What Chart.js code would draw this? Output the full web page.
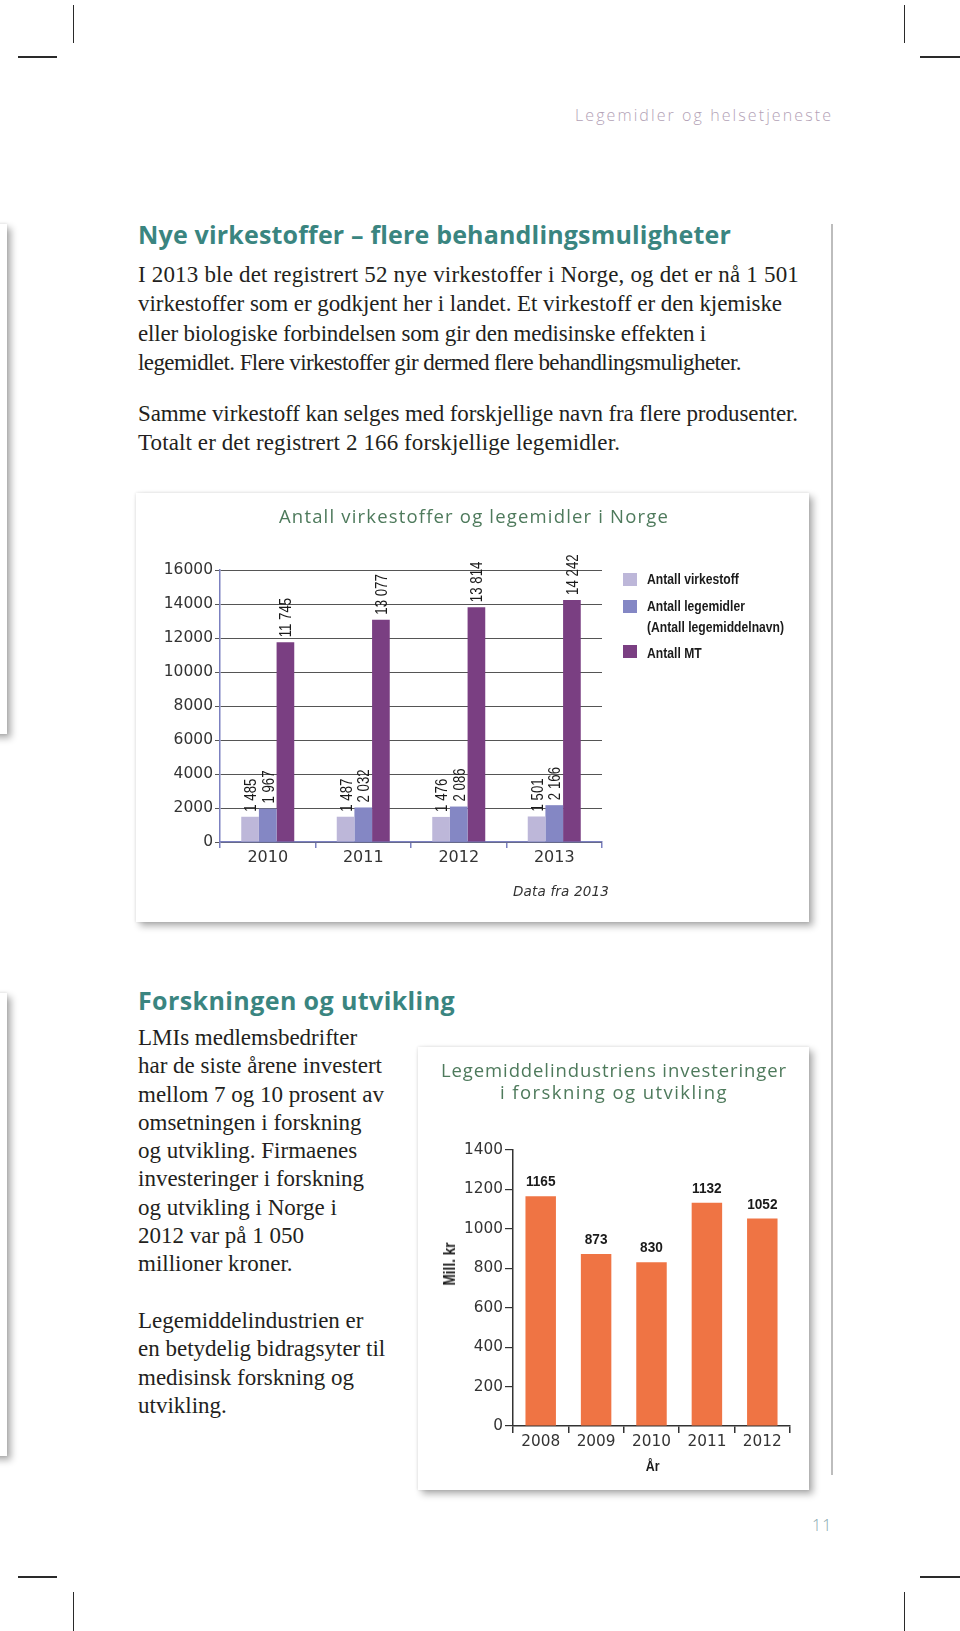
<!DOCTYPE html>
<html><head><meta charset="utf-8">
<script src="https://cdn.jsdelivr.net/npm/chart.js@4.4.1/dist/chart.umd.min.js"></script>
<style>
html,body{margin:0;padding:0;background:#fff;}
body{width:960px;height:1631px;position:relative;overflow:hidden;color:#231f20;}
.mk{position:absolute;background:#2a2a2a;}
.para{position:absolute;left:138px;font-family:"Liberation Serif","Times New Roman",serif;font-size:23px;white-space:nowrap;color:#231f20;}
.para span{display:inline-block;}
.h{position:absolute;left:138px;font-family:"Open Sans",sans-serif;font-weight:700;font-size:25px;line-height:30px;color:#3a8580;white-space:nowrap;}
.box{position:absolute;background:#fff;box-shadow:4px 4px 7px rgba(0,0,0,.32),0 0 3px rgba(0,0,0,.12);}
.ctitle{position:absolute;font-family:"Open Sans",sans-serif;font-size:18.5px;line-height:22px;color:#4e7a5c;white-space:nowrap;text-align:center;}
.ctitle span{display:inline-block;}
.cond{font-family:"Liberation Sans",Arial,sans-serif;font-weight:bold;white-space:nowrap;color:#1a1a1a;}
canvas{position:absolute;}
.leg{position:absolute;left:623px;}
.leg i{position:absolute;width:14px;height:13px;}
.leg span{position:absolute;left:24px;display:inline-block;transform:scaleX(0.81);transform-origin:0 50%;font-size:15px;line-height:18px;}
</style></head>
<body>
<!-- crop marks -->
<div class="mk" style="left:73px;top:5px;width:1px;height:38px"></div>
<div class="mk" style="left:18px;top:56px;width:39px;height:1.5px"></div>
<div class="mk" style="left:904px;top:5px;width:1px;height:38px"></div>
<div class="mk" style="left:920px;top:56px;width:40px;height:1.5px"></div>
<div class="mk" style="left:18px;top:1576px;width:39px;height:1.5px"></div>
<div class="mk" style="left:73px;top:1592px;width:1px;height:39px"></div>
<div class="mk" style="left:920px;top:1576px;width:40px;height:1.5px"></div>
<div class="mk" style="left:904px;top:1592px;width:1px;height:39px"></div>

<!-- header -->
<div id="hdr" style="position:absolute;left:575px;top:105px;font-family:'Open Sans',sans-serif;font-weight:300;font-size:16px;line-height:20px;color:#b3a2b6;white-space:nowrap;"><span id="hdrt" style="display:inline-block">Legemidler og helsetjeneste</span></div>

<!-- column rule -->
<div style="position:absolute;left:831px;top:224px;width:1.5px;height:1251px;background:#bdbdbd"></div>

<!-- left partial boxes -->
<div class="box" style="left:-30px;top:224px;width:37px;height:510px"></div>
<div class="box" style="left:-30px;top:993px;width:37px;height:463px"></div>

<!-- section 1 -->
<div class="h" style="top:219px"><span id="h1" style="display:inline-block">Nye virkestoffer – flere behandlingsmuligheter</span></div>
<div class="para" style="top:260px;line-height:29.4px">
<div><span data-w="661">I 2013 ble det registrert 52 nye virkestoffer i Norge, og det er nå 1 501</span></div>
<div><span data-w="644">virkestoffer som er godkjent her i landet. Et virkestoff er den kjemiske</span></div>
<div><span data-w="568">eller biologiske forbindelsen som gir den medisinske effekten i</span></div>
<div><span data-w="603">legemidlet. Flere virkestoffer gir dermed flere behandlingsmuligheter.</span></div>
</div>
<div class="para" style="top:399px;line-height:29.4px">
<div><span data-w="660">Samme virkestoff kan selges med forskjellige navn fra flere produsenter.</span></div>
<div><span data-w="482">Totalt er det registrert 2 166 forskjellige legemidler.</span></div>
</div>

<!-- chart 1 box -->
<div class="box" style="left:136px;top:493px;width:673px;height:429px"></div>
<canvas id="c1" width="673" height="429" style="left:136px;top:493px;width:673px;height:429px"></canvas>
<div class="ctitle" style="left:136px;top:505px;width:676px"><span id="t1">Antall virkestoffer og legemidler i Norge</span></div>
<div id="legend1"></div>
<div style="position:absolute;left:513px;top:883px;font-family:'DejaVu Sans',sans-serif;font-style:italic;font-size:13.5px;line-height:17px;color:#333;white-space:nowrap"><span id="df" style="display:inline-block">Data fra 2013</span></div>

<!-- section 2 -->
<div class="h" style="top:985px"><span id="h2" style="display:inline-block">Forskningen og utvikling</span></div>
<div class="para" style="top:1024px;line-height:28.25px">
<div>LMIs medlemsbedrifter</div>
<div>har de siste årene investert</div>
<div>mellom 7 og 10 prosent av</div>
<div>omsetningen i forskning</div>
<div>og utvikling. Firmaenes</div>
<div>investeringer i forskning</div>
<div>og utvikling i Norge i</div>
<div>2012 var på 1 050</div>
<div>millioner kroner.</div>
</div>
<div class="para" style="top:1307px;line-height:28.25px">
<div>Legemiddelindustrien er</div>
<div>en betydelig bidragsyter til</div>
<div>medisinsk forskning og</div>
<div>utvikling.</div>
</div>

<!-- chart 2 box -->
<div class="box" style="left:418px;top:1047px;width:391px;height:443px"></div>
<canvas id="c2" width="391" height="443" style="left:418px;top:1047px;width:391px;height:443px"></canvas>
<div class="ctitle" style="left:418px;top:1059px;width:392px"><span id="t2a">Legemiddelindustriens investeringer</span><br><span id="t2b">i forskning og utvikling</span></div>
<div class="cond" style="position:absolute;left:603px;top:1457px;width:100px;text-align:center;font-size:15.5px;line-height:18px"><span style="display:inline-block;transform:scaleX(0.8)">År</span></div>
<div class="cond" style="position:absolute;left:450px;top:1264px;font-size:17px;line-height:18px;transform:translate(-50%,-50%) rotate(-90deg) scaleX(0.8)">Mill. kr</div>

<!-- page number -->
<div style="position:absolute;left:812px;top:1515px;font-family:'Open Sans',sans-serif;font-weight:300;font-size:16px;line-height:20px;color:#86a6ae;letter-spacing:1px">11</div>

<script>
// ---------- data ----------
const years1 = ['2010', '2011', '2012', '2013'];
const seriesNames1 = ['Antall virkestoff', 'Antall legemidler', 'Antall MT'];
const legendLines1 = [['Antall virkestoff'], ['Antall legemidler', '(Antall legemiddelnavn)'], ['Antall MT']];
const virkestoff = [1485, 1487, 1476, 1501];
const legemidler = [1967, 2032, 2086, 2166];
const antallMT = [11745, 13077, 13814, 14242];
const colors1 = ['#bdb7d9', '#8487c4', '#7a3f82'];
const yTicks1 = [0, 2000, 4000, 6000, 8000, 10000, 12000, 14000, 16000];

const years2 = ['2008', '2009', '2010', '2011', '2012'];
const investering = [1165, 873, 830, 1132, 1052];
const color2 = '#ef7444';
const yTicks2 = [0, 200, 400, 600, 800, 1000, 1200, 1400];

// ---------- text fitting ----------
function fitEl(el, target){
  el.style.letterSpacing = '0px';
  const w = el.getBoundingClientRect().width;
  const n = el.textContent.length;
  el.style.letterSpacing = ((target - w) / n) + 'px';
}
function fit(id, target){ fitEl(document.getElementById(id), target); }
fit('hdrt', 258); fit('h1', 593); fit('h2', 317);
fit('t1', 390); fit('t2a', 346); fit('t2b', 228); fit('df', 96);
document.querySelectorAll('.para span[data-w]').forEach(s => fitEl(s, +s.dataset.w));

// ---------- legend (HTML) ----------
const legTops = [[573, 570], [600, 597], [645, 644]];
const lg = document.getElementById('legend1');
legendLines1.forEach((lines, i) => {
  const d = document.createElement('div');
  d.className = 'leg cond';
  d.style.top = legTops[i][0] + 'px';
  const sq = document.createElement('i');
  sq.style.background = colors1[i]; sq.style.left = '0px'; sq.style.top = '0px';
  d.appendChild(sq);
  lines.forEach((t, k) => {
    const s = document.createElement('span');
    s.textContent = t;
    s.style.top = (legTops[i][1] - legTops[i][0] + k * 21) + 'px';
    d.appendChild(s);
  });
  lg.appendChild(d);
});

// ---------- value label plugin ----------
const valueLabels = {
  id: 'valueLabels',
  afterDatasetsDraw(chart, args, o) {
    const ctx = chart.ctx;
    chart.data.datasets.forEach((ds, i) => {
      const meta = chart.getDatasetMeta(i);
      meta.data.forEach((bar, j) => {
        const txt = o.format(ds.data[j]);
        ctx.save();
        ctx.font = o.font;
        ctx.fillStyle = o.color;
        ctx.translate(bar.x, bar.y - o.offset);
        if (o.rotate) {
          ctx.rotate(-Math.PI / 2);
          ctx.scale(o.squeeze, 1);
          ctx.textAlign = 'left';
          ctx.textBaseline = 'alphabetic';
          ctx.fillText(txt, 0, o.capHalf);
        } else {
          ctx.scale(o.squeeze, 1);
          ctx.textAlign = 'center';
          ctx.textBaseline = 'alphabetic';
          ctx.fillText(txt, 0, 0);
        }
        ctx.restore();
      });
    });
  }
};
const spaced = v => String(v).replace(/\B(?=(\d{3})+(?!\d))/g, ' ');

// ---------- chart 1 ----------
new Chart(document.getElementById('c1'), {
  type: 'bar',
  data: {
    labels: years1,
    datasets: [
      { label: seriesNames1[0], data: virkestoff, backgroundColor: colors1[0] },
      { label: seriesNames1[1], data: legemidler, backgroundColor: colors1[1] },
      { label: seriesNames1[2], data: antallMT, backgroundColor: colors1[2] }
    ]
  },
  options: {
    responsive: false, animation: false, devicePixelRatio: 1,
    layout: { padding: { top: 77, right: 207, left: 0, bottom: 0 } },
    datasets: { bar: { categoryPercentage: 0.555, barPercentage: 1 } },
    plugins: {
      legend: { display: false }, tooltip: { enabled: false },
      valueLabels: { format: spaced, font: '17px "Liberation Sans", Arial, sans-serif', color: '#1a1a1a',
                     offset: 5, rotate: true, squeeze: 0.78, capHalf: 6 }
    },
    scales: {
      x: {
        grid: { display: true, drawOnChartArea: false, drawTicks: true, tickLength: 6, color: '#7b80c0', lineWidth: 1.5, offset: true },
        border: { color: '#7b80c0', width: 1.5 },
        ticks: { font: { family: 'DejaVu Sans', size: 16 }, color: '#333', padding: 0, maxRotation: 0 },
        afterFit: s => { s.height = 80; }
      },
      y: {
        min: 0, max: 16000,
        afterBuildTicks: s => { s.ticks = yTicks1.map(v => ({ value: v })); },
        ticks: { font: { family: 'DejaVu Sans', size: 15.5 }, color: '#333', padding: 2, callback: v => String(v) },
        grid: { color: '#555', lineWidth: 1, tickLength: 5, drawTicks: true },
        border: { color: '#7b80c0', width: 1.5 },
        afterFit: s => { s.width = 84; }
      }
    }
  },
  plugins: [valueLabels]
});

// ---------- chart 2 ----------
new Chart(document.getElementById('c2'), {
  type: 'bar',
  data: {
    labels: years2,
    datasets: [{ label: 'Mill. kr', data: investering, backgroundColor: color2 }]
  },
  options: {
    responsive: false, animation: false, devicePixelRatio: 1,
    layout: { padding: { top: 103, right: 19, left: 0, bottom: 0 } },
    datasets: { bar: { categoryPercentage: 0.55, barPercentage: 1 } },
    plugins: {
      legend: { display: false }, tooltip: { enabled: false },
      valueLabels: { format: v => String(v), font: 'bold 15.5px "Liberation Sans", Arial, sans-serif', color: '#1a1a1a',
                     offset: 10, rotate: false, squeeze: 0.88, capHalf: 0 }
    },
    scales: {
      x: {
        grid: { display: true, drawOnChartArea: false, drawTicks: true, tickLength: 7, color: '#333', lineWidth: 1.5, offset: true },
        border: { color: '#333', width: 1.5 },
        ticks: { font: { family: 'DejaVu Sans', size: 15.3 }, color: '#333', padding: 0, maxRotation: 0 },
        afterFit: s => { s.height = 64; }
      },
      y: {
        min: 0, max: 1400,
        afterBuildTicks: s => { s.ticks = yTicks2.map(v => ({ value: v })); },
        ticks: { font: { family: 'DejaVu Sans', size: 15.3 }, color: '#333', padding: 2, callback: v => String(v) },
        grid: { drawOnChartArea: false, drawTicks: true, tickLength: 8, color: '#333', lineWidth: 1.2 },
        border: { color: '#333', width: 1.5 },
        afterFit: s => { s.width = 95; }
      }
    }
  },
  plugins: [valueLabels]
});
</script>
</body></html>
